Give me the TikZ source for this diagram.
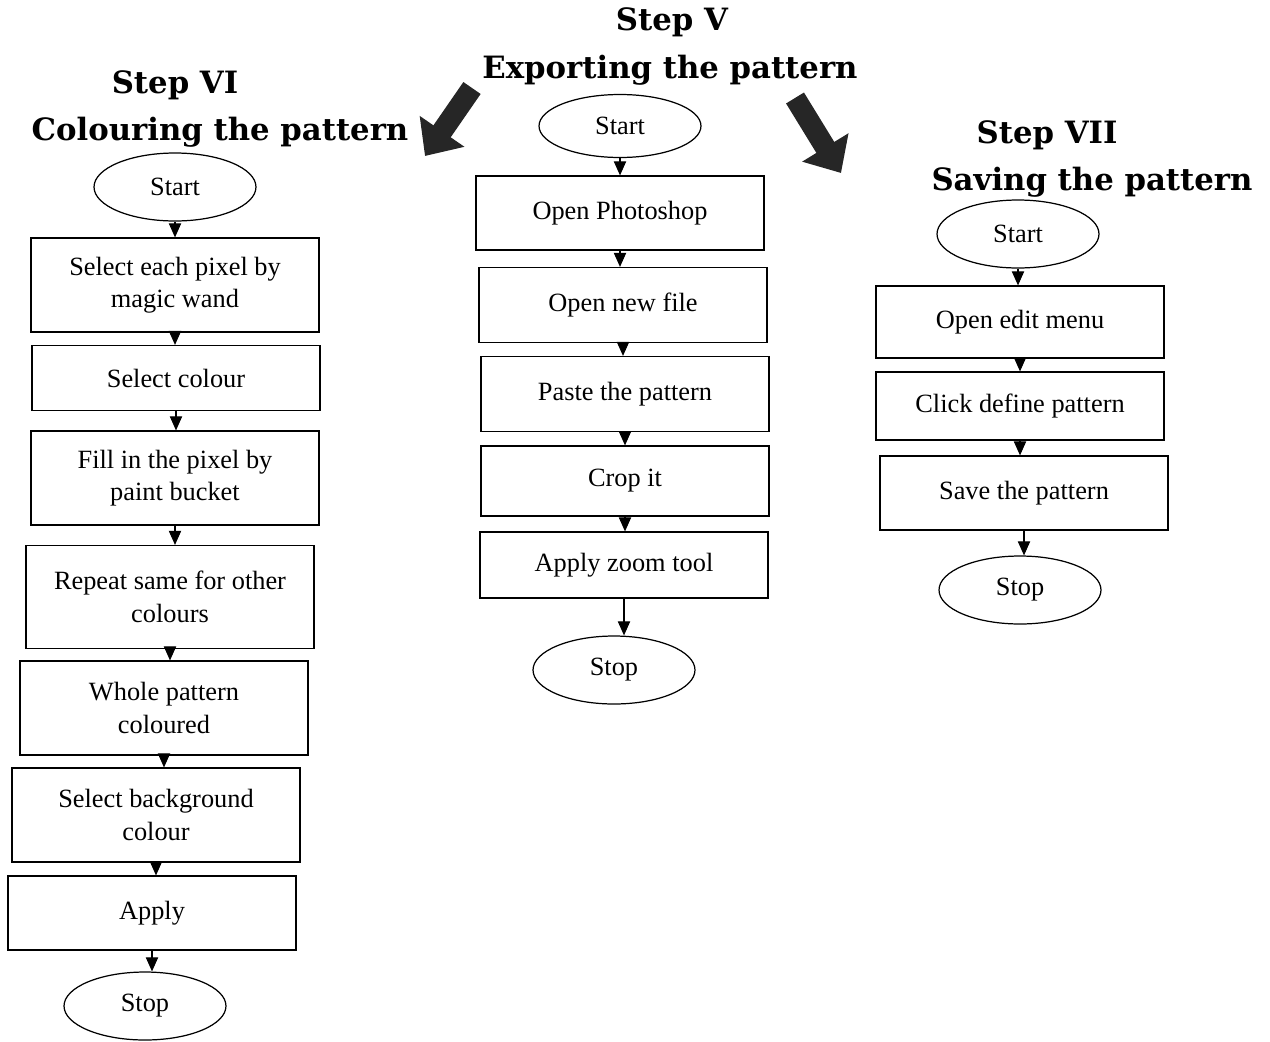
\documentclass[tikz,border=0pt]{standalone}
\usepackage{fontspec}
\setmainfont{Liberation Serif}
\newfontfamily\headfont{DejaVu Serif}
\usetikzlibrary{arrows.meta, positioning, shapes.geometric}

\begin{document}
\begin{tikzpicture}[x=0.02cm, y=-0.02cm,
    font=\fontsize{15}{18.5}\selectfont,
    proc/.style={draw, line width=0.7pt, minimum width=5.76cm, minimum height=1.44cm, align=center, inner sep=2pt},
    twoline/.style={proc, minimum height=1.88cm},
    term/.style={draw, ellipse, line width=0.7pt, minimum width=3.24cm, minimum height=1.36cm, inner sep=0pt},
    flow/.style={-{Triangle[length=8pt, width=7pt]}, line width=0.6pt},
    heading/.style={font=\headfont\bfseries\fontsize{17.5}{21}\selectfont, align=center},
    bigarrow/.style={-{Triangle[length=0.6cm, width=1.05cm]}, line width=0.42cm, black!85}]
  \useasboundingbox (0,0) rectangle (1270,1041);

  % Step VI
  \node[heading] (h6a) at (175,85) {Step VI};
  \node[heading] (h6b) at (220,132) {Colouring the pattern};
  \node[term] (s6) at (175,187) {Start};
  \node[twoline] (l1) at (175,285) {Select each pixel by\\magic wand};
  \node[proc, minimum height=1.3cm] (l2) at (176,378) {Select colour};
  \node[twoline] (l3) at (175,478) {Fill in the pixel by\\paint bucket};
  \node[twoline, minimum height=2.06cm] (l4) at (170,597) {Repeat same for other\\colours};
  \node[twoline] (l5) at (164,708) {Whole pattern\\coloured};
  \node[twoline] (l6) at (156,815) {Select background\\colour};
  \node[proc, minimum height=1.48cm] (l7) at (152,913) {Apply};
  \node[term] (e6) at (145,1006) {Stop};
  \foreach \a/\b in {s6/l1, l1/l2, l2/l3, l3/l4, l4/l5, l5/l6, l6/l7, l7/e6}
    \draw[flow] (\a.south) -- (\a.south |- \b.north);

  % Step V
  \node[heading] (h5a) at (672,22) {Step V};
  \node[heading] (h5b) at (670,70) {Exporting the pattern};
  \node[term, minimum height=1.26cm] (s5) at (620,126) {Start};
  \node[proc, minimum height=1.48cm] (m1) at (620,213) {Open Photoshop};
  \node[proc, minimum height=1.5cm] (m2) at (623,305) {Open new file};
  \node[proc, minimum height=1.5cm] (m3) at (625,394) {Paste the pattern};
  \node[proc, minimum height=1.4cm] (m4) at (625,481) {Crop it};
  \node[proc, minimum height=1.32cm] (m5) at (624,565) {Apply zoom tool};
  \node[term] (e5) at (614,670) {Stop};
  \foreach \a/\b in {s5/m1, m1/m2, m2/m3, m3/m4, m4/m5, m5/e5}
    \draw[flow] (\a.south) -- (\a.south |- \b.north);

  % Step VII
  \node[heading] (h7a) at (1047,135) {Step VII};
  \node[heading] (h7b) at (1092,182) {Saving the pattern};
  \node[term] (s7) at (1018,234) {Start};
  \node[proc] (r1) at (1020,322) {Open edit menu};
  \node[proc, minimum height=1.36cm] (r2) at (1020,406) {Click define pattern};
  \node[proc, minimum height=1.48cm] (r3) at (1024,493) {Save the pattern};
  \node[term] (e7) at (1020,590) {Stop};
  \foreach \a/\b in {s7/r1, r1/r2, r2/r3, r3/e7}
    \draw[flow] (\a.south) -- (\a.south |- \b.north);

  % thick pointers to the side charts
  \coordinate (p1) at (472,88);
  \coordinate (p2) at (425,156);
  \coordinate (p3) at (795,98);
  \coordinate (p4) at (841,173);
  \draw[bigarrow] (p1) -- (p2);
  \draw[bigarrow] (p3) -- (p4);
\end{tikzpicture}
\end{document}
